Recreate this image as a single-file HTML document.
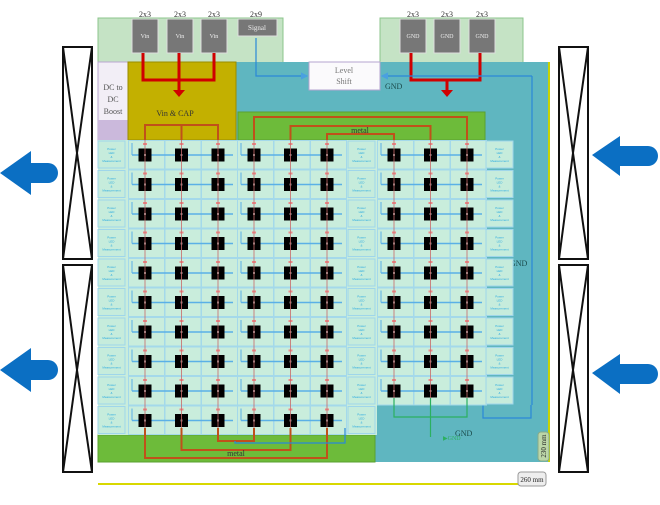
<!DOCTYPE html>
<html><head><meta charset="utf-8"><style>
html,body{margin:0;padding:0;background:#fff;width:660px;height:505px;overflow:hidden}
svg{display:block;font-family:"Liberation Serif",serif}
</style></head><body>
<svg width="660" height="505" viewBox="0 0 660 505" xmlns="http://www.w3.org/2000/svg">
<defs>
<marker id="ab" markerWidth="6" markerHeight="6" refX="5" refY="3" orient="auto"><path d="M0,0L6,3L0,6z" fill="#4aa0e0"/></marker>
<g id="lbl">
<rect x="1" y="1" width="27" height="27" fill="#c6ecdc" stroke="#9fd6ea" stroke-width="1"/>
<text x="14.5" y="10" font-size="3" fill="#29a9e0" text-anchor="middle" font-family="Liberation Sans,sans-serif">Power</text>
<text x="14.5" y="14" font-size="3" fill="#29a9e0" text-anchor="middle" font-family="Liberation Sans,sans-serif">LED</text>
<text x="14.5" y="18" font-size="3" fill="#29a9e0" text-anchor="middle" font-family="Liberation Sans,sans-serif">&amp;</text>
<text x="14.5" y="22" font-size="3" fill="#29a9e0" text-anchor="middle" font-family="Liberation Sans,sans-serif">Measurement</text>
</g>
<g id="cell">
<rect x="0.5" y="0.5" width="36" height="28.5" fill="#c9eddc" stroke="#a4d9ea" stroke-width="1"/>
</g>
<g id="chip"><rect x="-6.5" y="-6.5" width="13" height="13" fill="#000"/><rect x="-1" y="-1" width="2" height="2" fill="#888"/><rect x="-2" y="-12" width="4" height="2" fill="#e88"/></g>
<g id="tri">
<use href="#cell" x="0"/><use href="#cell" x="36.5"/><use href="#cell" x="73"/>
<line x1="4" y1="15" x2="105" y2="15" stroke="#5bb0e6" stroke-width="1.5"/>
<path d="M4,15 v-12" stroke="#5bb0e6" stroke-width="1" fill="none"/>
<use href="#chip" x="17" y="15"/><use href="#chip" x="53.5" y="15"/><use href="#chip" x="90" y="15"/>
</g>
</defs>

<g stroke="#111" stroke-width="2" fill="none">
<rect x="63" y="47" width="29" height="212"/><path d="M63,47L77,153L92,259M92,47L77,153L63,259"/>
<rect x="63" y="265" width="29" height="207"/><path d="M63,265L77,370L92,472M92,265L77,370L63,472"/>
<rect x="559" y="47" width="29" height="212"/><path d="M559,47L573,153L588,259M588,47L573,153L559,259"/>
<rect x="559" y="265" width="29" height="207"/><path d="M559,265L573,370L588,472M588,265L573,370L559,472"/>
</g>
<g fill="#0b6fc3">
<path d="M0,173L31,151V163H48A10,10 0 0 1 48,183H31V195Z"/>
<path d="M0,370L31,348V360H48A10,10 0 0 1 48,380H31V392Z"/>
<path d="M592,155L620,136V146H648A10,10 0 0 1 648,166H620V176Z"/>
<path d="M592,373L620,354V364H648A10,10 0 0 1 648,384H620V394Z"/>
</g>

<rect x="98" y="18" width="185" height="45" fill="#c5e3c5" stroke="#8cc68c"/>
<rect x="380" y="18" width="143" height="45" fill="#c5e3c5" stroke="#8cc68c"/>

<rect x="236" y="62" width="314" height="400" fill="#5fb6c0"/>
<rect x="98" y="62" width="30" height="78" fill="#f2eef6" stroke="#b9a7d0"/>
<rect x="98" y="120" width="30" height="20" fill="#cbb9dc"/>
<rect x="128" y="62" width="108" height="78" fill="#c3b000" stroke="#9a8c00"/>
<rect x="238" y="112" width="247" height="28" fill="#6dbb3a" stroke="#5aa030"/>
<rect x="98" y="435" width="277" height="27" fill="#6dbb3a" stroke="#5aa030"/>
<rect x="309" y="62" width="71" height="28" fill="#fbfafc" stroke="#b6a4cf"/>
<rect x="98" y="140" width="279" height="295" fill="#c9eddc"/>
<rect x="377" y="140" width="108" height="265" fill="#c9eddc"/>
<line x1="549" y1="62" x2="549" y2="462" stroke="#c8d400" stroke-width="2"/>

<g fill="#777" stroke="#ddd" stroke-width="1">
<rect x="132" y="19" width="26" height="34"/><rect x="167" y="19" width="26" height="34"/><rect x="201" y="19" width="26" height="34"/>
<rect x="238" y="19" width="39" height="17"/>
<rect x="400" y="19" width="26" height="34"/><rect x="434" y="19" width="26" height="34"/><rect x="469" y="19" width="26" height="34"/>
</g>
<g font-size="6" fill="#eee" text-anchor="middle">
<text x="145" y="38">Vin</text><text x="180" y="38">Vin</text><text x="214" y="38">Vin</text>
<text x="257" y="30" font-size="7">Signal</text>
<text x="413" y="38">GND</text><text x="447" y="38">GND</text><text x="482" y="38">GND</text>
</g>
<g font-size="8" fill="#333" text-anchor="middle">
<text x="145" y="17">2x3</text><text x="180" y="17">2x3</text><text x="214" y="17">2x3</text><text x="256" y="17">2x9</text>
<text x="413" y="17">2x3</text><text x="447" y="17">2x3</text><text x="482" y="17">2x3</text>
</g>

<g stroke="#d00000" stroke-width="3" fill="none">
<path d="M143,53V80H214V53M179,53V92"/>
<path d="M411,53V80H480V53M447,80V92"/>
</g>
<path d="M173,90h12l-6,7z" fill="#d00000"/><path d="M441,90h12l-6,7z" fill="#d00000"/>
<g stroke="#2a88d8" stroke-width="1.2" fill="none">
<path d="M256,38V76H307" marker-end="url(#ab)"/>
<path d="M532,76H382" marker-end="url(#ab)"/>
<path d="M532,76V405"/>
<path d="M483,405V418H531V405"/>
</g>
<text x="113" y="90" font-size="8" fill="#555" text-anchor="middle">DC to</text>
<text x="113" y="102" font-size="8" fill="#555" text-anchor="middle">DC</text>
<text x="113" y="114" font-size="8" fill="#555" text-anchor="middle">Boost</text>
<text x="175" y="116" font-size="8" fill="#333" text-anchor="middle">Vin &amp; CAP</text>
<text x="344" y="73" font-size="8" fill="#777" text-anchor="middle">Level</text>
<text x="344" y="84" font-size="8" fill="#777" text-anchor="middle">Shift</text>
<text x="385" y="89" font-size="8" fill="#1a4a4a">GND</text>
<text x="510" y="266" font-size="8" fill="#1a4a4a">GND</text>
<text x="455" y="436" font-size="8" fill="#1a4a4a">GND</text>
<text x="443" y="440" font-size="6" fill="#2bb060">▶GND</text>

<g>
<g transform="translate(0,140)"><use href="#lbl" x="97"/><use href="#tri" x="128"/><use href="#tri" x="237"/><use href="#lbl" x="347"/><use href="#tri" x="377"/><use href="#lbl" x="485"/></g>
<g transform="translate(0,169.5)"><use href="#lbl" x="97"/><use href="#tri" x="128"/><use href="#tri" x="237"/><use href="#lbl" x="347"/><use href="#tri" x="377"/><use href="#lbl" x="485"/></g>
<g transform="translate(0,199)"><use href="#lbl" x="97"/><use href="#tri" x="128"/><use href="#tri" x="237"/><use href="#lbl" x="347"/><use href="#tri" x="377"/><use href="#lbl" x="485"/></g>
<g transform="translate(0,228.5)"><use href="#lbl" x="97"/><use href="#tri" x="128"/><use href="#tri" x="237"/><use href="#lbl" x="347"/><use href="#tri" x="377"/><use href="#lbl" x="485"/></g>
<g transform="translate(0,258)"><use href="#lbl" x="97"/><use href="#tri" x="128"/><use href="#tri" x="237"/><use href="#lbl" x="347"/><use href="#tri" x="377"/><use href="#lbl" x="485"/></g>
<g transform="translate(0,287.5)"><use href="#lbl" x="97"/><use href="#tri" x="128"/><use href="#tri" x="237"/><use href="#lbl" x="347"/><use href="#tri" x="377"/><use href="#lbl" x="485"/></g>
<g transform="translate(0,317)"><use href="#lbl" x="97"/><use href="#tri" x="128"/><use href="#tri" x="237"/><use href="#lbl" x="347"/><use href="#tri" x="377"/><use href="#lbl" x="485"/></g>
<g transform="translate(0,346.5)"><use href="#lbl" x="97"/><use href="#tri" x="128"/><use href="#tri" x="237"/><use href="#lbl" x="347"/><use href="#tri" x="377"/><use href="#lbl" x="485"/></g>
<g transform="translate(0,376)"><use href="#lbl" x="97"/><use href="#tri" x="128"/><use href="#tri" x="237"/><use href="#lbl" x="347"/><use href="#tri" x="377"/><use href="#lbl" x="485"/></g>
<g transform="translate(0,405.5)"><use href="#lbl" x="97"/><use href="#tri" x="128"/><use href="#tri" x="237"/><use href="#lbl" x="347"/></g>
</g>
<g stroke="#c86a6a" stroke-width="1" opacity="0.8">
<path d="M145,140V435M181.5,140V435M218,140V435M254,140V435M290.5,140V435M327,140V435M394,140V405M430.5,140V405M467,140V405"/>
</g>
<g stroke="#c0501a" stroke-width="2" fill="none">
<path d="M145,140V125H218V140M181.5,125V140"/>
<path d="M254,140V117H467V140"/>
<path d="M290.5,140V126H430.5V140"/>
<path d="M327,140V134H394V140"/>
<path d="M145,428V458H327V428"/>
<path d="M181.5,428V450H290.5V428"/>
<path d="M218,428V441H254V428"/>
</g>
<path d="M235,441V443H345V428" stroke="#2a88d8" stroke-width="1.2" fill="none"/>
<text x="360" y="133" font-size="8" fill="#333" text-anchor="middle">metal</text>
<text x="236" y="456" font-size="8" fill="#333" text-anchor="middle">metal</text>
<g stroke="#2bb060" stroke-width="1.2" fill="none"><path d="M394,398V417H467V398M430.5,398V437"/></g>

<line x1="98" y1="484" x2="520" y2="484" stroke="#d8d800" stroke-width="2"/>
<rect x="518" y="472" width="28" height="14" rx="3" fill="#eee" stroke="#999"/>
<text x="532" y="482" font-size="7" fill="#222" text-anchor="middle">260 mm</text>
<rect x="538" y="432" width="11" height="29" rx="3" fill="#bcd6a8" stroke="#8a8"/>
<text x="546" y="446" font-size="7" fill="#222" text-anchor="middle" transform="rotate(-90 546 446)">230 mm</text>
</svg>
</body></html>
